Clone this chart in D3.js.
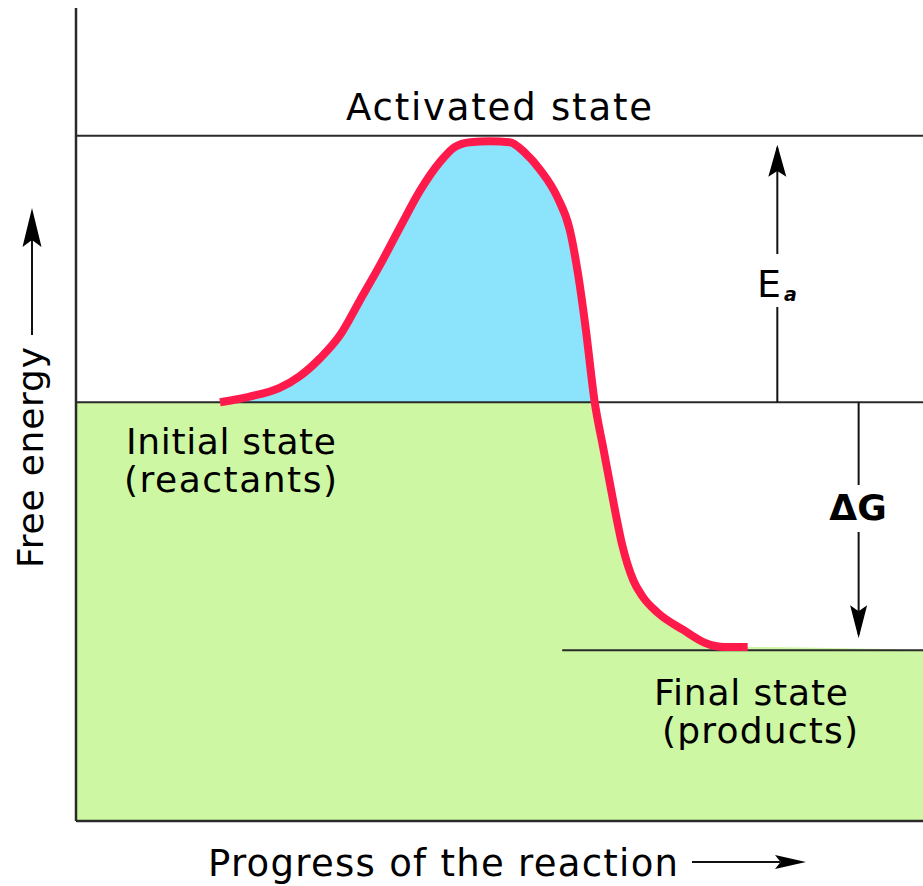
<!DOCTYPE html>
<html>
<head>
<meta charset="utf-8">
<script src="https://cdn.jsdelivr.net/npm/d3@7"></script>
<style>
  html, body { margin: 0; padding: 0; background: #fff; }
  svg { display: block; }
  text { font-family: "DejaVu Sans", Verdana, sans-serif; fill: #000; }
</style>
</head>
<body>
<svg id="chart" width="923" height="886"></svg>
<script>
// ---- data ----
const progress = [17.0, 20.5, 24.1, 26.4, 28.8, 31.2, 33.5, 35.9, 38.3, 40.6, 43.0, 44.7, 46.5, 48.9, 51.2, 53.0, 54.8, 56.8, 58.3, 59.3, 60.2, 61.2, 62.3, 63.4, 64.5, 65.8, 66.9, 68.7, 71.7, 74.3, 76.6, 79.3];
const energy   = [51.5, 52.2, 53.3, 54.7, 56.9, 59.8, 64.0, 68.4, 73.1, 77.5, 81.1, 82.9, 83.5, 83.6, 83.5, 82.2, 80.1, 76.8, 72.7, 67.1, 60.4, 51.8, 45.6, 39.5, 33.9, 29.6, 27.6, 25.6, 23.5, 21.9, 21.4, 21.4];
const levelNames  = ["activated", "initial", "final"];
const levelValues = [84.3, 51.5, 21.0];
const finalLineStart = 57.4;
const eaArrowX = 82.8;
const dgArrowX = 92.4;

const activated = levelValues[0], initial = levelValues[1], final = levelValues[2];

const svg = d3.select("#chart");
const x = d3.scaleLinear().domain([0, 100]).range([76, 923]);
const y = d3.scaleLinear().domain([0, 100]).range([821, 8]);

const pts = progress.map((p, i) => ({ p, e: energy[i] }));

// blue: between curve and initial level where curve is above
const blueArea = d3.area()
  .x(d => x(d.p))
  .y0(y(initial))
  .y1(d => y(Math.max(initial, d.e)))
  .curve(d3.curveMonotoneX);
svg.append("path").datum(pts).attr("d", blueArea).attr("fill", "#8ce4fc");

// green: everything below min(initial, curve), then final level
const greenPts = [{ p: 0, e: initial }].concat(pts).concat([{ p: 100, e: final }]);
const greenArea = d3.area()
  .x(d => x(d.p))
  .y0(y(0))
  .y1(d => y(Math.min(initial, d.e)))
  .curve(d3.curveMonotoneX);
svg.append("path").datum(greenPts).attr("d", greenArea).attr("fill", "#cdf7a2");

const lineColor = "#2a2a2a";
// level lines
svg.append("line").attr("x1", x(0)).attr("x2", x(100)).attr("y1", y(activated)).attr("y2", y(activated))
  .attr("stroke", lineColor).attr("stroke-width", 2);
svg.append("line").attr("x1", x(0)).attr("x2", x(100)).attr("y1", y(initial)).attr("y2", y(initial))
  .attr("stroke", lineColor).attr("stroke-width", 2);
svg.append("line").attr("x1", x(finalLineStart)).attr("x2", x(100)).attr("y1", y(final)).attr("y2", y(final))
  .attr("stroke", lineColor).attr("stroke-width", 2);

// axes (plain lines)
svg.append("line").attr("x1", x(0)).attr("x2", x(0)).attr("y1", y(100)).attr("y2", y(0))
  .attr("stroke", lineColor).attr("stroke-width", 2.5);
svg.append("line").attr("x1", x(0)).attr("x2", x(100)).attr("y1", y(0)).attr("y2", y(0))
  .attr("stroke", lineColor).attr("stroke-width", 2.5);

// energy curve
const line = d3.line().x(d => x(d.p)).y(d => y(d.e)).curve(d3.curveMonotoneX);
svg.append("path").datum(pts).attr("d", line)
  .attr("fill", "none").attr("stroke", "#ff1a4c").attr("stroke-width", 8)
  .attr("stroke-linejoin", "round");

// arrowhead helper: tip at (tx,ty), rotation in degrees (0 = pointing up)
function arrowHead(tx, ty, len, half, rot) {
  const notch = len * 0.82;
  svg.append("path")
    .attr("d", `M0,0 L${-half},${len} L0,${notch} L${half},${len} Z`)
    .attr("transform", `translate(${tx},${ty}) rotate(${rot})`)
    .attr("fill", "#000");
}

// Ea arrow
const eaX = x(eaArrowX);
svg.append("line").attr("x1", eaX).attr("x2", eaX).attr("y1", y(initial)).attr("y2", 307)
  .attr("stroke", "#111").attr("stroke-width", 2);
svg.append("line").attr("x1", eaX).attr("x2", eaX).attr("y1", 254).attr("y2", y(activated) + 12)
  .attr("stroke", "#111").attr("stroke-width", 2);
arrowHead(eaX, y(activated) + 9, 32, 9, 0);
const ea = svg.append("text").attr("x", 757).attr("y", 297).style("font-size", "38px");
ea.append("tspan").text("E");
ea.append("tspan").attr("dx", 3).attr("dy", 4).style("font-size", "19px").style("font-style", "italic").style("font-weight", "bold").text("a");

// ΔG arrow
const dgX = x(dgArrowX);
svg.append("line").attr("x1", dgX).attr("x2", dgX).attr("y1", y(initial)).attr("y2", 485)
  .attr("stroke", "#111").attr("stroke-width", 2);
svg.append("line").attr("x1", dgX).attr("x2", dgX).attr("y1", 532).attr("y2", y(final) - 16)
  .attr("stroke", "#111").attr("stroke-width", 2);
arrowHead(dgX, y(final) - 12, 33, 8.5, 180);
svg.append("text").attr("x", 858).attr("y", 520).attr("text-anchor", "middle")
  .style("font-size", "36px").style("font-weight", "bold").text("ΔG");

// labels
svg.append("text").attr("x", 346).attr("y", 120).attr("textLength", 306).attr("lengthAdjust", "spacing")
  .style("font-size", "37px").text("Activated state");
svg.append("text").attr("x", 126).attr("y", 454).attr("textLength", 210).attr("lengthAdjust", "spacing")
  .style("font-size", "36px").text("Initial state");
svg.append("text").attr("x", 124).attr("y", 492).attr("textLength", 213).attr("lengthAdjust", "spacing")
  .style("font-size", "36px").text("(reactants)");
svg.append("text").attr("x", 654).attr("y", 705).attr("textLength", 194).attr("lengthAdjust", "spacing")
  .style("font-size", "36px").text("Final state");
svg.append("text").attr("x", 662).attr("y", 743).attr("textLength", 196).attr("lengthAdjust", "spacing")
  .style("font-size", "36px").text("(products)");

// axis titles
svg.append("text").attr("x", 208).attr("y", 876).attr("textLength", 470).attr("lengthAdjust", "spacing")
  .style("font-size", "37px").text("Progress of the reaction");
svg.append("line").attr("x1", 692).attr("x2", 780).attr("y1", 862).attr("y2", 862)
  .attr("stroke", "#111").attr("stroke-width", 2);
arrowHead(806, 862, 31, 7, 90);

svg.append("text").attr("transform", "translate(43,568) rotate(-90)")
  .attr("textLength", 221).attr("lengthAdjust", "spacing")
  .style("font-size", "36px").text("Free energy");
svg.append("line").attr("x1", 32).attr("x2", 32).attr("y1", 335).attr("y2", 240)
  .attr("stroke", "#111").attr("stroke-width", 2);
arrowHead(32, 208, 39, 9.5, 0);
</script>
</body>
</html>
